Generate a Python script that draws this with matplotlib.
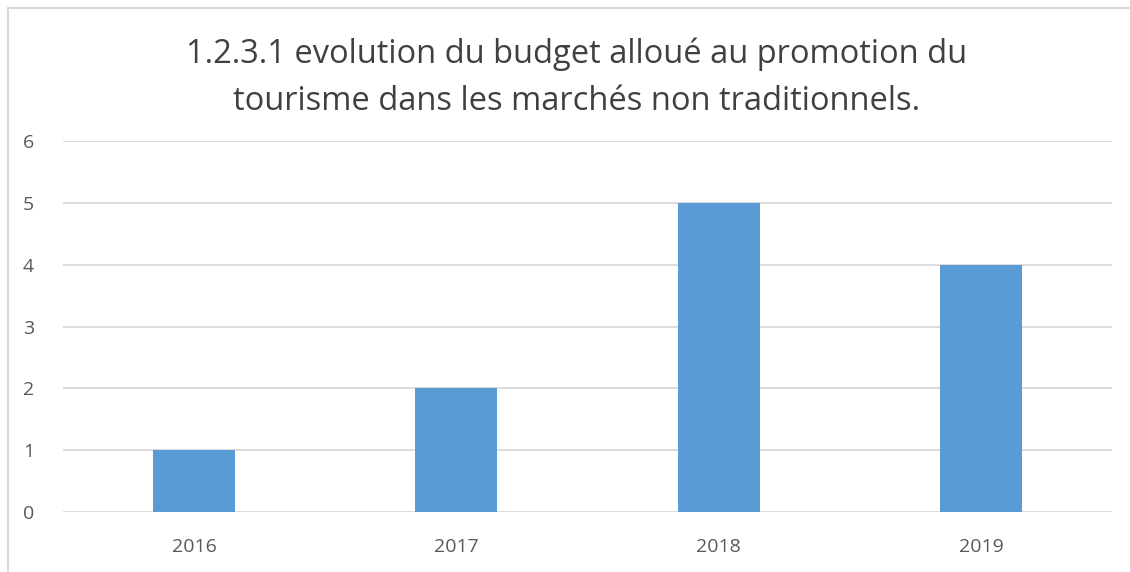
import matplotlib
matplotlib.use("Agg")
import matplotlib.pyplot as plt
from matplotlib.lines import Line2D

years = ["2016", "2017", "2018", "2019"]
values = [1, 2, 5, 4]
yticks = [0, 1, 2, 3, 4, 5, 6]
title = "1.2.3.1 evolution du budget alloué au promotion du\ntourisme dans les marchés non traditionnels."

W, H = 1130, 572
fig = plt.figure(figsize=(W / 100, H / 100), dpi=100)
plt.rcParams['font.family'] = ['Open Sans', 'DejaVu Sans']

# outer chart border (partially cropped)
fig.add_artist(Line2D([8 / W, 1.0], [1 - 8 / H, 1 - 8 / H], transform=fig.transFigure,
                      color="#D9D9D9", lw=1.5))
fig.add_artist(Line2D([8 / W, 8 / W], [1 - 8 / H, 0], transform=fig.transFigure,
                      color="#D9D9D9", lw=1.5))

left, right = 63, 1112
top, bottom = 141, 512
ax = fig.add_axes([left / W, 1 - bottom / H, (right - left) / W, (bottom - top) / H])

x = list(range(len(years)))
ax.bar(x, values, width=0.313, color="#5B9BD5", zorder=3)
ax.set_xlim(-0.5, len(years) - 0.5)
ax.set_ylim(0, 6)
ax.set_yticks(yticks)
ax.set_xticks(x)
ax.set_xticklabels(years)
ax.grid(axis="y", color="#D9D9D9", lw=1.3, zorder=0)
for s in ax.spines.values():
    s.set_visible(False)
ax.tick_params(axis="both", length=0, labelsize=14, colors="#595959")
ax.tick_params(axis="y", pad=21)
ax.tick_params(axis="x", pad=19)

fig.text(577 / W, 1 - 78 / H, title, ha="center", va="center", fontsize=23.5,
         color="#404040", linespacing=1.55)

fig.savefig("out.png", dpi=100)
